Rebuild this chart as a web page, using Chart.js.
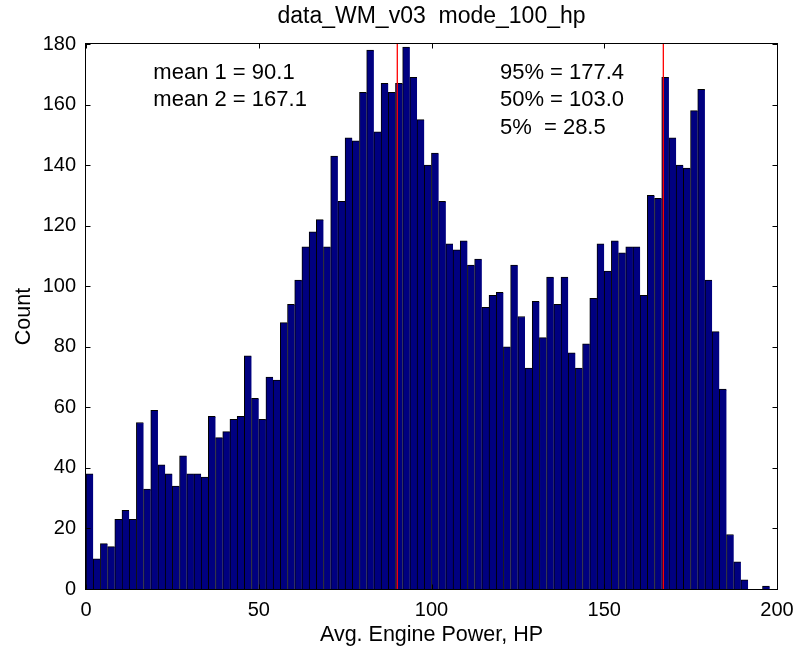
<!DOCTYPE html>
<html>
<head>
<meta charset="utf-8">
<title>data_WM_v03  mode_100_hp</title>
<script src="https://cdn.jsdelivr.net/npm/chart.js@4.4.1/dist/chart.umd.min.js"></script>
<style>
  html, body { margin: 0; padding: 0; background: #fff; }
  #wrap { width: 795px; height: 649px; }
</style>
</head>
<body>
<div id="wrap"><canvas id="hist" width="795" height="649"></canvas></div>
<script>
// histogram: 95 bins starting at 0 hp
const binWidth = 2.083;
const counts = [
  38, 10, 15, 14, 23, 26, 23, 55, 33, 59,
  41, 38, 34, 44, 38, 38, 37, 57, 50, 52,
  56, 57, 77, 63, 56, 70, 69, 88, 94, 102,
  113, 118, 122, 113, 143, 128, 149, 148, 164, 178,
  151, 167, 164, 167, 179, 169, 155, 140, 144, 128,
  114, 112, 115, 107, 109, 93, 97, 98, 80, 107,
  90, 73, 95, 83, 103, 94, 103, 78, 73, 81,
  96, 114, 105, 115, 111, 113, 113, 97, 130, 129,
  169, 149, 140, 139, 158, 165, 102, 85, 66, 18,
  9, 3, 0, 0, 1
];
const meanLines = [90.1, 167.1];
const xTicks = [0, 50, 100, 150, 200];
const yTicks = [0, 20, 40, 60, 80, 100, 120, 140, 160, 180];
const leftNotes = ['mean 1 = 90.1', 'mean 2 = 167.1'];
const rightNotes = ['95% = 177.4', '50% = 103.0', '5%  = 28.5'];
const titleText = 'data_WM_v03  mode_100_hp';
const xLabel = 'Avg. Engine Power, HP';
const yLabel = 'Count';

const FONT = '"Liberation Sans", Arial, Helvetica, sans-serif';

const binPoints = counts.map((c, i) => ({ x: (i + 0.5) * binWidth, y: c }));

const datasets = [{
  type: 'bar',
  data: binPoints,
  backgroundColor: '#000080',
  borderColor: '#000000',
  borderWidth: { left: 1, top: 1, right: 0, bottom: 0 },
  borderSkipped: false,
  barPercentage: 1,
  categoryPercentage: 1,
  order: 2
}];
meanLines.forEach(m => {
  datasets.push({
    type: 'line',
    data: [{ x: m, y: 0 }, { x: m, y: 180 }],
    borderColor: '#ff0000',
    borderWidth: 1.3,
    pointRadius: 0,
    fill: false,
    order: 1
  });
});

// box, inward ticks and all the texts
const matlabAxes = {
  id: 'matlabAxes',
  afterDatasetsDraw(chart) {
    const { ctx, chartArea: a, scales: { x, y } } = chart;
    const L = Math.round(a.left) - 0.5, R = Math.round(a.right) + 0.5;
    const T = Math.round(a.top) - 0.5, B = Math.round(a.bottom) + 0.5;
    ctx.save();
    ctx.strokeStyle = '#000';
    ctx.lineWidth = 1;
    ctx.strokeRect(L, T, R - L, B - T);
    ctx.beginPath();
    yTicks.forEach(v => {
      const py = Math.round(y.getPixelForValue(v)) + 0.5;
      ctx.moveTo(L, py); ctx.lineTo(L + 5, py);
      ctx.moveTo(R, py); ctx.lineTo(R - 5, py);
    });
    xTicks.forEach(v => {
      const px = Math.round(x.getPixelForValue(v)) + 0.5;
      ctx.moveTo(px, B); ctx.lineTo(px, B - 5);
      ctx.moveTo(px, T); ctx.lineTo(px, T + 5);
    });
    ctx.stroke();
    ctx.restore();
  },
  afterDraw(chart) {
    const { ctx, chartArea: a, scales: { x, y } } = chart;
    const cx = (a.left + a.right) / 2;
    ctx.save();
    ctx.fillStyle = '#000';
    ctx.textAlign = 'center';
    ctx.textBaseline = 'middle';
    ctx.font = '23px ' + FONT;
    ctx.fillText(titleText, cx, 17);
    ctx.font = '21.5px ' + FONT;
    ctx.textBaseline = 'alphabetic';
    ctx.fillText(xLabel, cx, 641);
    ctx.save();
    ctx.translate(30, (a.top + a.bottom) / 2);
    ctx.rotate(-Math.PI / 2);
    ctx.fillText(yLabel, 0, 0);
    ctx.restore();

    ctx.font = '22px ' + FONT;
    ctx.textAlign = 'left';
    ctx.textBaseline = 'middle';
    const rows = [170.6, 161.5, 152.4];
    leftNotes.forEach((t, i) => ctx.fillText(t, x.getPixelForValue(19.5), y.getPixelForValue(rows[i])));
    rightNotes.forEach((t, i) => ctx.fillText(t, x.getPixelForValue(119.8), y.getPixelForValue(rows[i])));
    ctx.restore();
  }
};

new Chart(document.getElementById('hist'), {
  type: 'bar',
  data: { datasets },
  options: {
    responsive: false,
    animation: false,
    events: [],
    layout: { padding: { left: 0, right: 18, top: 44, bottom: 0 } },
    plugins: { legend: { display: false }, tooltip: { enabled: false }, title: { display: false } },
    scales: {
      x: {
        type: 'linear',
        min: 0, max: 200,
        offset: false,
        grid: { display: false, drawTicks: false, offset: false },
        border: { display: false },
        afterBuildTicks: s => { s.ticks = xTicks.map(v => ({ value: v })); },
        afterFit: s => { s.height = 60; s.paddingLeft = 0; s.paddingRight = 0; },
        ticks: { color: '#000', font: { family: FONT, size: 20 }, padding: 9, maxRotation: 0 }
      },
      y: {
        min: 0, max: 180,
        grid: { display: false, drawTicks: false },
        border: { display: false },
        afterBuildTicks: s => { s.ticks = yTicks.map(v => ({ value: v })); },
        afterFit: s => { s.width = 86; s.paddingTop = 0; s.paddingBottom = 0; },
        ticks: { color: '#000', font: { family: FONT, size: 20 }, padding: 10 }
      }
    }
  },
  plugins: [matlabAxes]
});
</script>
</body>
</html>
